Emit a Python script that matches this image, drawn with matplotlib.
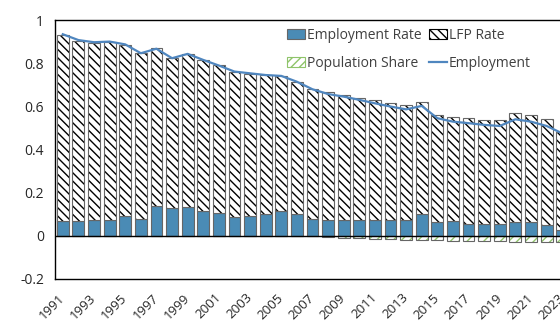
import matplotlib
matplotlib.use("Agg")
import matplotlib.pyplot as plt
from matplotlib.patches import Patch
from matplotlib.lines import Line2D
import numpy as np

plt.rcParams['font.family'] = ['Open Sans', 'DejaVu Sans']
plt.rcParams['hatch.linewidth'] = 1.0

years = list(range(1991, 2024))

# contribution of the employment rate (bottom, solid blue)
emp_rate = [0.071, 0.071, 0.074, 0.074, 0.093, 0.080, 0.136, 0.128, 0.133, 0.117,
            0.108, 0.086, 0.094, 0.102, 0.113, 0.100, 0.079, 0.074, 0.074, 0.074,
            0.074, 0.074, 0.073, 0.102, 0.062, 0.071, 0.057, 0.054, 0.055, 0.063,
            0.066, 0.049, 0.025]

# top of the stacked positive bars
bar_top = [0.930, 0.903, 0.893, 0.897, 0.885, 0.845, 0.868, 0.823, 0.842, 0.815,
           0.790, 0.760, 0.752, 0.746, 0.741, 0.714, 0.680, 0.665, 0.652, 0.640,
           0.630, 0.617, 0.606, 0.622, 0.560, 0.552, 0.545, 0.537, 0.537, 0.568,
           0.560, 0.542, 0.483]
lfp_rate = [t - e for t, e in zip(bar_top, emp_rate)]

# population share (negative, below zero)
pop_share = [0, 0, 0, 0, 0, 0, 0, 0, 0, 0,
             0, 0, 0, 0, 0, 0, -0.002, -0.006, -0.009, -0.012,
             -0.014, -0.015, -0.019, -0.019, -0.020, -0.022, -0.023, -0.026, -0.026, -0.028,
             -0.029, -0.029, -0.029]

employment = [0.934, 0.907, 0.897, 0.900, 0.887, 0.846, 0.867, 0.823, 0.843, 0.815,
              0.789, 0.761, 0.753, 0.745, 0.741, 0.714, 0.679, 0.657, 0.645, 0.630,
              0.614, 0.599, 0.586, 0.602, 0.545, 0.529, 0.522, 0.514, 0.509, 0.540,
              0.529, 0.509, 0.475]

tick_years = [str(y) for y in range(1991, 2024, 2)]

blue = '#4a8bb5'
line_blue = '#4f86bf'
green = '#8fc46a'
edge = '#666666'

fig = plt.figure(figsize=(5.6, 3.24), dpi=100)
ax = fig.add_axes([55 / 560, 1 - 279 / 324, 515 / 560, 259 / 324])

x = np.arange(len(years))
w = 0.76

# solid employment-rate part
ax.bar(x, emp_rate, w, color=blue, edgecolor=edge, linewidth=0.8, zorder=2)
# hatched LFP part: hatch layer then outline
ax.bar(x, lfp_rate, w, bottom=emp_rate, facecolor='white', edgecolor='black',
       hatch='\\\\\\\\', linewidth=0, zorder=2)
ax.bar(x, lfp_rate, w, bottom=emp_rate, fill=False, edgecolor=edge,
       linewidth=0.8, zorder=3)
# population share below zero
ax.bar(x, pop_share, w, facecolor='white', edgecolor=green,
       hatch='////', linewidth=0, zorder=2)
ax.bar(x, pop_share, w, fill=False, edgecolor=edge, linewidth=0.8, zorder=3)

ax.plot(x, employment, color=line_blue, linewidth=1.6, zorder=4)
ax.axhline(0, color='black', linewidth=1, zorder=3)

ax.set_xlim(-0.5, len(years) - 0.5)
ax.set_ylim(-0.2, 1.0)
ax.set_yticks([-0.2, 0, 0.2, 0.4, 0.6, 0.8, 1.0])
ax.set_yticklabels(['-0.2', '0', '0.2', '0.4', '0.6', '0.8', '1'])
ax.set_xticks(x[::2])
ax.set_xticklabels(tick_years, rotation=45, ha='right', va='center',
                   rotation_mode='anchor')
ax.tick_params(axis='both', length=0, labelsize=10, colors='#262626')
ax.tick_params(axis='x', labelsize=9.5, pad=12)
ax.tick_params(axis='y', pad=8)
for s in ax.spines.values():
    s.set_linewidth(1)
    s.set_color('black')

# legend fills column-first, so order gives two rows
handles = [
    Patch(facecolor=blue, edgecolor=edge, linewidth=0.8),
    Patch(facecolor='white', edgecolor=green, hatch='////', linewidth=0.8),
    Patch(facecolor='white', edgecolor='black', hatch='\\\\\\\\', linewidth=0.8),
    Line2D([0], [0], color=line_blue, linewidth=1.6),
]
labels = ['Employment Rate', 'Population Share', 'LFP Rate', 'Employment']
leg = fig.legend(handles, labels, loc='upper left', bbox_to_anchor=(287 / 560, 1 - 28 / 324),
                 ncol=2, frameon=False, fontsize=10, handlelength=1.3, handleheight=0.7,
                 handletextpad=0.15, columnspacing=0.5, labelspacing=0.95, borderpad=0,
                 borderaxespad=0)
for t in leg.get_texts():
    t.set_color('#404040')

fig.savefig('out.png', dpi=100)
